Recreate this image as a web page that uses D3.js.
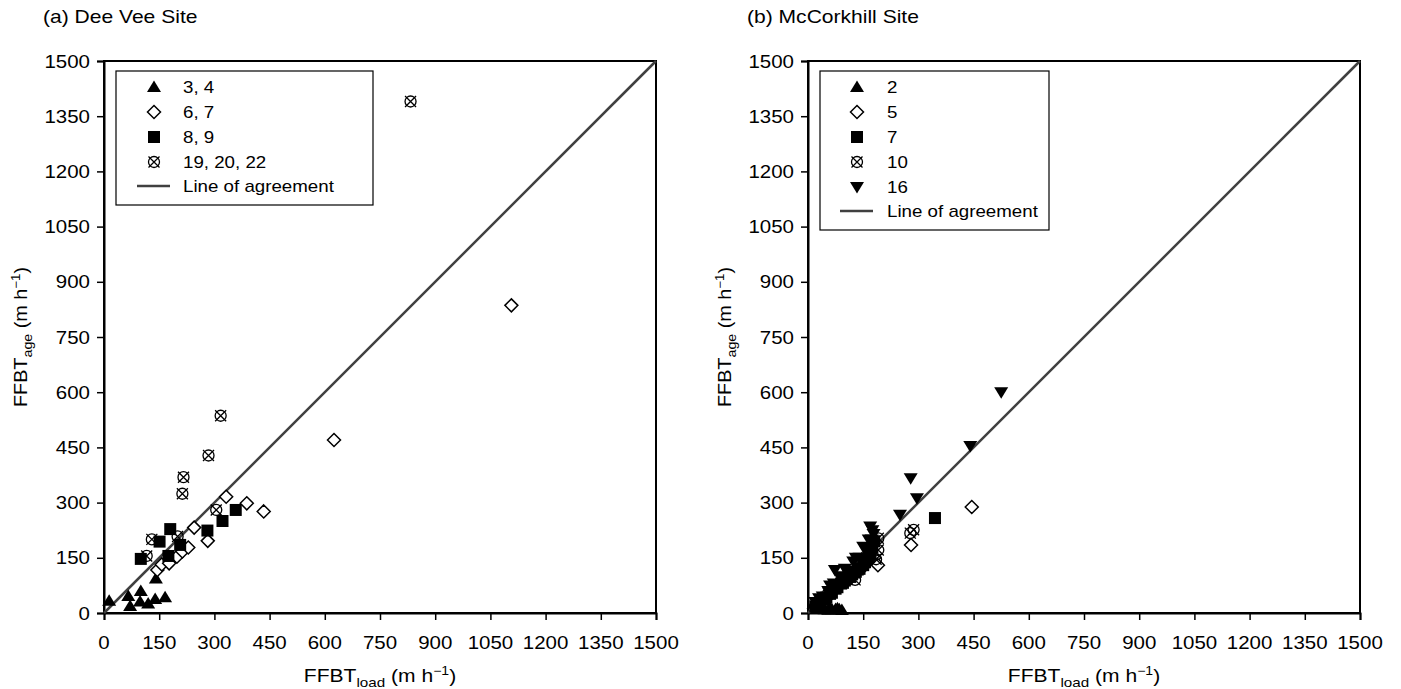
<!DOCTYPE html>
<html>
<head>
<meta charset="utf-8">
<script src="https://cdn.jsdelivr.net/npm/d3@7"></script>
<style>
  body { margin: 0; background: #fff; }
  text { font-family: "Liberation Sans", Arial, sans-serif; fill: #000; }
</style>
</head>
<body>
<svg id="chart" width="1401" height="689"></svg>
<script>
// tick values shared by both panels
var tickValues = [0, 150, 300, 450, 600, 750, 900, 1050, 1200, 1350, 1500];

// (a) Dee Vee Site
var a34X = [14, 66, 71, 100, 98, 120, 139, 166, 141];
var a34Y = [33, 46, 19, 60, 31, 26, 38, 43, 94];
var a67X = [145, 157, 177, 198, 213, 229, 245, 282, 332, 388, 434, 625, 1107];
var a67Y = [117, 132, 135, 153, 167, 178, 232, 196, 316, 298, 276, 470, 836];
var a89X = [100, 151, 180, 207, 175, 281, 322, 358];
var a89Y = [147, 194, 228, 185, 155, 224, 250, 280];
var a19X = [116, 130, 200, 213, 216, 284, 305, 317, 833];
var a19Y = [155, 200, 208, 324, 369, 428, 280, 536, 1390];

// (b) McCorkhill Site
var b2X = [15, 25, 35, 45, 55, 65, 75, 85, 92, 40, 60, 80];
var b2Y = [25, 15, 12, 10, 9, 10, 11, 10, 8, 18, 14, 13];
var b5X = [35, 60, 95, 120, 150, 180, 190, 280, 445];
var b5Y = [30, 50, 85, 100, 125, 150, 130, 185, 288];
var b7X = [20, 25, 30, 35, 45, 50, 60, 65, 75, 80, 90, 95, 100, 105, 115, 120, 125, 135, 140, 150, 155, 160, 165, 170, 175, 180, 110, 130, 345];
var b7Y = [18, 22, 25, 30, 38, 42, 52, 55, 66, 70, 80, 82, 88, 92, 98, 105, 110, 118, 120, 130, 138, 145, 152, 160, 178, 195, 100, 112, 258];
var b10X = [55, 100, 128, 160, 185, 191, 191, 278, 287];
var b10Y = [54, 95, 90, 150, 146, 171, 203, 217, 226];
var b16X = [20, 30, 40, 55, 60, 70, 73, 85, 90, 100, 110, 123, 130, 140, 150, 155, 165, 169, 173, 175, 178, 250, 296, 279, 441, 525];
var b16Y = [30, 40, 45, 60, 75, 80, 117, 100, 95, 120, 115, 140, 150, 150, 180, 175, 200, 235, 200, 225, 215, 267, 312, 366, 454, 600];

var sx = 1.17; // reference text is a bit wide
var svg = d3.select('#chart');

function txt(g, x, y, size, anchor) {
  return g.append('text')
    .attr('transform', 'translate(' + x + ',' + y + ') scale(' + sx + ',1)')
    .attr('font-size', size + 'px')
    .attr('fill', '#000')
    .attr('text-anchor', anchor || 'start');
}

function drawMarker(g, type, x, y) {
  if (type == 'tri') {
    g.append('path').attr('d', 'M' + x + ',' + (y - 6.5) + 'L' + (x + 7) + ',' + (y + 5) + 'L' + (x - 7) + ',' + (y + 5) + 'Z')
      .attr('fill', '#000');
  } else if (type == 'tridown') {
    g.append('path').attr('d', 'M' + x + ',' + (y + 6.5) + 'L' + (x + 7) + ',' + (y - 5) + 'L' + (x - 7) + ',' + (y - 5) + 'Z')
      .attr('fill', '#000');
  } else if (type == 'square') {
    g.append('rect').attr('x', x - 6).attr('y', y - 6).attr('width', 12).attr('height', 12).attr('fill', '#000');
  } else if (type == 'diamond') {
    g.append('path').attr('d', 'M' + x + ',' + (y - 6.5) + 'L' + (x + 6.5) + ',' + y + 'L' + x + ',' + (y + 6.5) + 'L' + (x - 6.5) + ',' + y + 'Z')
      .attr('fill', '#fff').attr('stroke', '#000').attr('stroke-width', 1.5);
  } else if (type == 'cross') {
    g.append('circle').attr('cx', x).attr('cy', y).attr('r', 5.5)
      .attr('fill', 'none').attr('stroke', '#000').attr('stroke-width', 1.3);
    g.append('path').attr('d', 'M' + (x - 5.5) + ',' + (y - 5.5) + 'L' + (x + 5.5) + ',' + (y + 5.5) +
      'M' + (x + 5.5) + ',' + (y - 5.5) + 'L' + (x - 5.5) + ',' + (y + 5.5))
      .attr('stroke', '#000').attr('stroke-width', 1.3);
  }
}

function axisTitle(t, sub) {
  t.append('tspan').text('FFBT');
  t.append('tspan').attr('font-size', '13px').attr('dy', 5).text(sub);
  t.append('tspan').attr('dy', -5).text(' (m h');
  t.append('tspan').attr('font-size', '12px').attr('dy', -7).text('\u22121');
  t.append('tspan').attr('dy', 7).text(')');
}

function panel(opt) {
  var size = 552;
  var g = svg.append('g').attr('transform', 'translate(' + opt.left + ',61)');
  var x = d3.scaleLinear().domain([0, 1500]).range([0, size]);
  var y = d3.scaleLinear().domain([0, 1500]).range([size, 0]);

  // title
  txt(svg, opt.left - 61, 22.5, 18).text(opt.title);

  // frame
  g.append('rect').attr('width', size).attr('height', size)
    .attr('fill', 'none').attr('stroke', '#000').attr('stroke-width', 2);

  // axes
  var xa = g.append('g').attr('transform', 'translate(0,' + size + ')')
    .call(d3.axisBottom(x).tickValues(tickValues).tickSize(7).tickFormat(''));
  var ya = g.append('g')
    .call(d3.axisLeft(y).tickValues(tickValues).tickSize(7).tickFormat(''));
  [xa, ya].forEach(function(a) {
    a.select('.domain').attr('stroke', '#000').attr('stroke-width', 2);
    a.selectAll('.tick line').attr('stroke', '#000').attr('stroke-width', 1.5);
  });
  tickValues.forEach(function(v) {
    txt(g, x(v), size + 36, 17.5, 'middle').text(v);
    txt(g, -14, y(v) + 6.5, 17.5, 'end').text(v);
  });

  // axis titles
  axisTitle(txt(g, size / 2, size + 69, 18, 'middle'), 'load');

  var yt = g.append('text')
    .attr('transform', 'translate(-77,' + size / 2 + ') rotate(-90) scale(1.1,1)')
    .attr('font-size', '18px').attr('fill', '#000').attr('text-anchor', 'middle');
  axisTitle(yt, 'age');

  // line of agreement
  g.append('line')
    .attr('x1', x(0)).attr('y1', y(0)).attr('x2', x(1500)).attr('y2', y(1500))
    .attr('stroke', '#404040').attr('stroke-width', 2.5);

  // points
  var pts = g.append('g');
  opt.series.forEach(function(s) {
    s.xs.forEach(function(v, i) {
      drawMarker(pts, s.type, x(v), y(s.ys[i]));
    });
  });

  // legend
  var lg = svg.append('g');
  lg.append('rect').attr('x', opt.left + 12).attr('y', 71)
    .attr('width', opt.legendW).attr('height', opt.series.length * 25 + 34)
    .attr('fill', '#fff').attr('stroke', '#000').attr('stroke-width', 1.2);
  opt.series.forEach(function(s, i) {
    var yy = 87 + i * 25;
    drawMarker(lg, s.type, opt.left + opt.symX, yy);
    txt(lg, opt.left + opt.textX, yy + 6, 16).text(s.name);
  });
  var ly = 87 + opt.series.length * 25 - 1;
  lg.append('line').attr('x1', opt.left + opt.symX - 17).attr('x2', opt.left + opt.symX + 16)
    .attr('y1', ly).attr('y2', ly).attr('stroke', '#404040').attr('stroke-width', 2.5);
  txt(lg, opt.left + opt.textX, ly + 6, 16).text('Line of agreement');
}

panel({
  left: 104, title: '(a) Dee Vee Site', legendW: 257, symX: 50, textX: 79,
  series: [
    { name: '3, 4', type: 'tri', xs: a34X, ys: a34Y },
    { name: '6, 7', type: 'diamond', xs: a67X, ys: a67Y },
    { name: '8, 9', type: 'square', xs: a89X, ys: a89Y },
    { name: '19, 20, 22', type: 'cross', xs: a19X, ys: a19Y }
  ]
});

panel({
  left: 808, title: '(b) McCorkhill Site', legendW: 229, symX: 49, textX: 79,
  series: [
    { name: '2', type: 'tri', xs: b2X, ys: b2Y },
    { name: '5', type: 'diamond', xs: b5X, ys: b5Y },
    { name: '7', type: 'square', xs: b7X, ys: b7Y },
    { name: '10', type: 'cross', xs: b10X, ys: b10Y },
    { name: '16', type: 'tridown', xs: b16X, ys: b16Y }
  ]
});
</script>
</body>
</html>
